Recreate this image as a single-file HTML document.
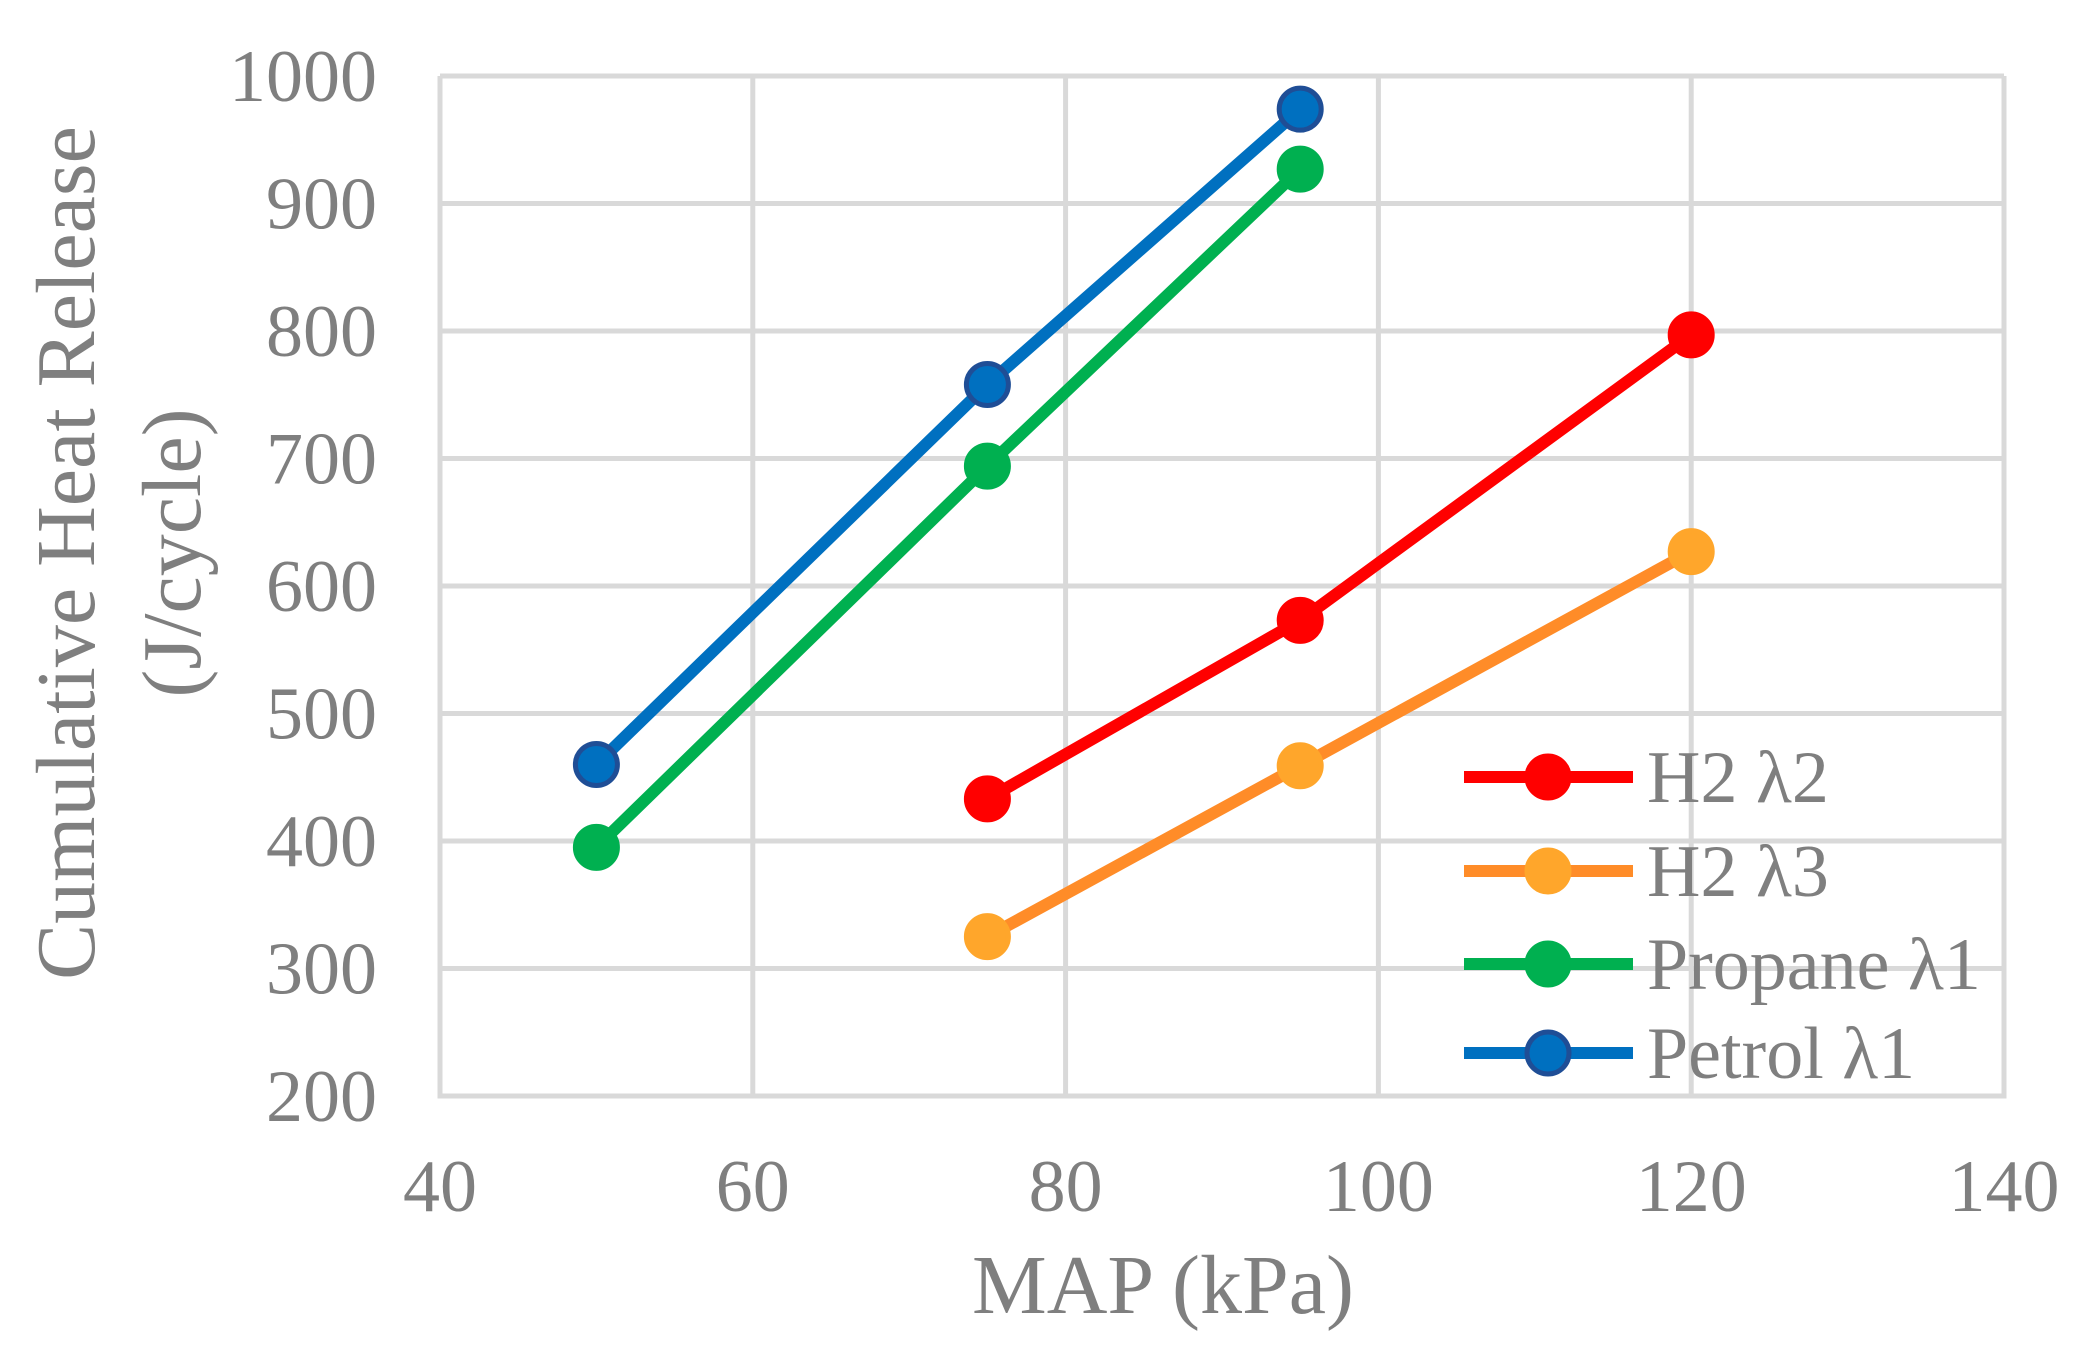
<!DOCTYPE html>
<html><head><meta charset="utf-8"><style>
body{margin:0;background:#fff}
svg text{font-family:"Liberation Serif",serif;fill:#7f7f7f}
</style></head><body>
<svg id="chart" width="2080" height="1350" xmlns="http://www.w3.org/2000/svg">
<g id="grid"></g>
<g id="axes"></g>
<g id="series"></g>
<text x="1163" y="1313" font-size="84" text-anchor="middle">MAP (kPa)</text>
<text transform="translate(94,553) rotate(-90)" font-size="84" text-anchor="middle">Cumulative Heat Release</text>
<text transform="translate(200,553) rotate(-90)" font-size="84" text-anchor="middle">(J/cycle)</text>
<g id="legend"></g>
</svg>
<script>
const xTicks=[40,60,80,100,120,140];
const yTicks=[200,300,400,500,600,700,800,900,1000];
const seriesNames=["H2 λ2","H2 λ3","Propane λ1","Petrol λ1"];
const h2l2X=[75,95,120], h2l2Y=[433,573,797];
const h2l3X=[75,95,120], h2l3Y=[325,459,627];
const propX=[50,75,95], propY=[395,694,927];
const petX=[50,75,95], petY=[460,758,974];
const L=440,R=2004,T=76,B=1096;
const sx=v=>L+(v-40)/100*(R-L), sy=v=>B-(v-200)/800*(B-T);
const NS="http://www.w3.org/2000/svg";
function mk(t,a,p){const e=document.createElementNS(NS,t);for(const k in a)e.setAttribute(k,a[k]);p.appendChild(e);return e;}
const grid=document.getElementById('grid'),axes=document.getElementById('axes'),ser=document.getElementById('series'),leg=document.getElementById('legend');
xTicks.forEach(v=>{const l=mk('line',{x1:sx(v),x2:sx(v),y1:T,y2:B,stroke:'#d9d9d9','stroke-width':5},grid);


const t=mk('text',{x:sx(v),y:1211,'font-size':74,'text-anchor':'middle'},axes);t.textContent=v;

});
yTicks.forEach(v=>{const l=mk('line',{x1:L,x2:R,y1:sy(v),y2:sy(v),stroke:'#d9d9d9','stroke-width':5},grid);


const t=mk('text',{x:377,y:sy(v)+25,'font-size':74,'text-anchor':'end'},axes);t.textContent=v;

});
const defs=[[h2l2X,h2l2Y,'#ff0000','#ff0000','#ff0000'],[h2l3X,h2l3Y,'#ff8c28','#ffa62b','#ffa62b'],[propX,propY,'#00b050','#00b050','#00b050'],[petX,petY,'#0070c0','#0070c0','#1f4e96']];
defs.forEach((d,i)=>{const g=mk('g',{},ser);


const pl=mk('polyline',{points:d[0].map((x,j)=>sx(x)+','+sy(d[1][j])).join(' '),fill:'none',stroke:d[2],'stroke-width':12},g);


d[0].forEach((x,j)=>{const c=mk('circle',{cx:sx(x),cy:sy(d[1][j]),r:21,fill:d[3],stroke:d[4],'stroke-width':5},g);

});
const ly=[777,871,964,1053][i];
const e=mk('g',{},leg);


mk('line',{x1:1464,x2:1633,y1:ly,y2:ly,stroke:d[2],'stroke-width':12},e);
mk('circle',{cx:1548,cy:ly,r:21,fill:d[3],stroke:d[4],'stroke-width':5},e);
const t=mk('text',{x:1647,y:ly+25,'font-size':74},e);t.textContent=seriesNames[i];});
const ax=mk('path',{d:`M${L},${T} V${B} H${R} V${T}`,fill:'none',stroke:'#d9d9d9','stroke-width':5},axes);


</script>
</body></html>
